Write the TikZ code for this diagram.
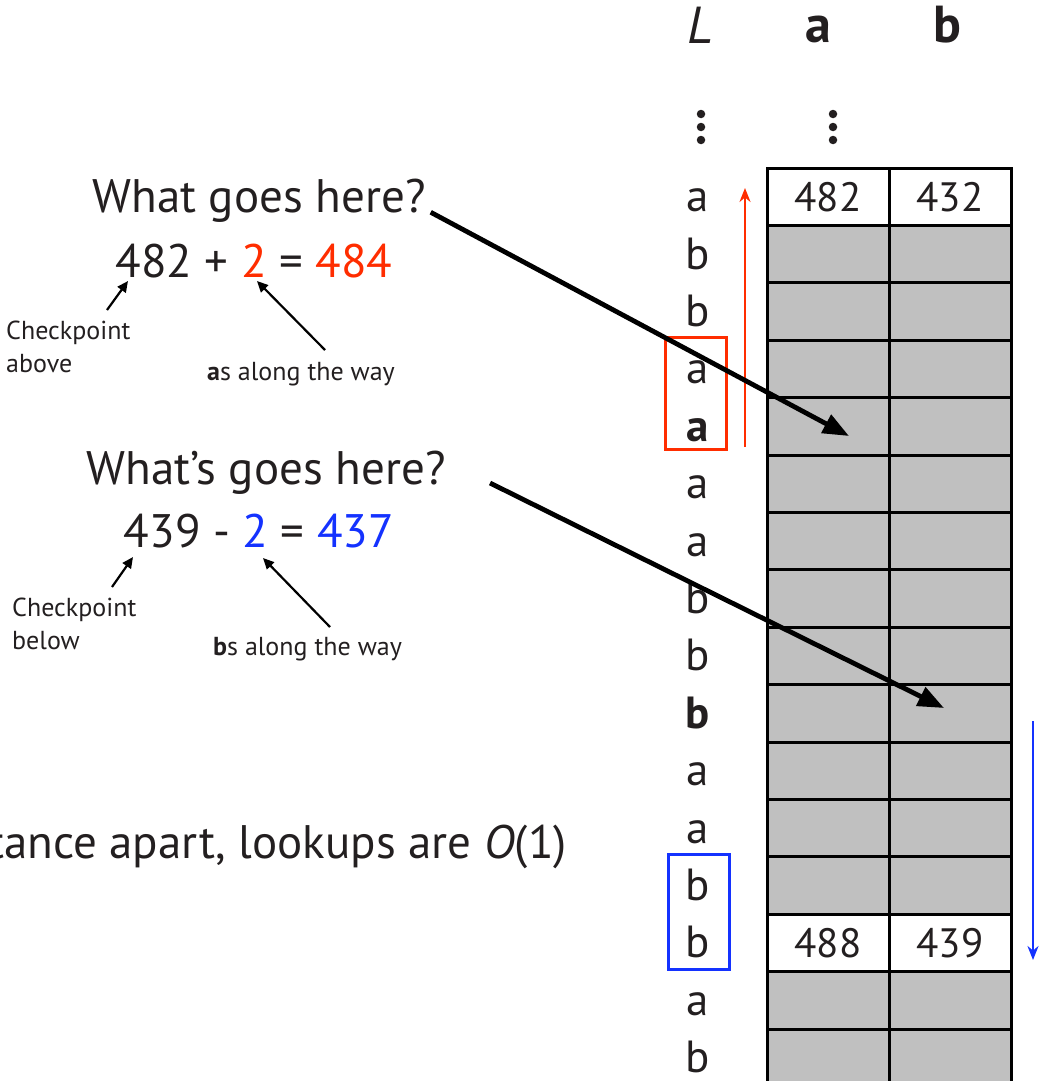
\documentclass[tikz,border=0pt]{standalone}
\usepackage{fontspec}
\setmainfont{PT Sans}
\usetikzlibrary{arrows.meta}
\definecolor{myred}{RGB}{255,45,0}
\definecolor{myblue}{RGB}{20,50,255}
\definecolor{cellgray}{RGB}{192,192,192}
\definecolor{ink}{RGB}{35,31,32}
\begin{document}
\begin{tikzpicture}[x=1pt,y=-1pt,
  lbl/.style={font=\fontsize{45}{50}\selectfont, text=ink, inner sep=0pt, anchor=base},
  hdr/.style={font=\fontsize{52}{58}\selectfont, text=ink, inner sep=0pt, anchor=base},
  cell/.style={draw=black, line width=3pt, minimum width=122pt, minimum height=57.4pt, inner sep=0pt, font=\fontsize{41}{46}\selectfont, text=ink},
  big/.style={font=\fontsize{47}{56}\selectfont, text=ink, inner sep=0pt, anchor=base},
  small/.style={font=\fontsize{26}{33}\selectfont, text=ink, inner sep=0pt, align=left},
  bigarrow/.style={line width=4.8pt, -{Triangle[length=26pt,width=20pt]}},
  smallarrow/.style={line width=2.2pt, -{Triangle[length=11pt,width=10pt]}},
  vdot/.style={circle, fill=ink, inner sep=0pt, minimum size=8.5pt},
  hlbox/.style={line width=3pt, minimum width=61pt, minimum height=112pt, inner sep=0pt}
]
\useasboundingbox (0,0) rectangle (1040,1081);
\clip (0,0) rectangle (1040,1081);

% headers
\node[hdr] (hL) at (700,44) {\itshape L};
\node[hdr] (ha) at (818,43) {\bfseries a};
\node[hdr] (hb) at (947,43) {\bfseries b};

% vertical dots
\foreach \k/\yy in {1/114,2/127,3/140}{
  \node[vdot] (dl\k) at (701,\yy) {};
  \node[vdot] (da\k) at (833,\yy) {};
}

% table rows
\foreach \i/\va/\vb/\f in {0/482/432/white,1///cellgray,2///cellgray,3///cellgray,4///cellgray,5///cellgray,6///cellgray,7///cellgray,8///cellgray,9///cellgray,10///cellgray,11///cellgray,12///cellgray,13/488/439/white,14///cellgray,15///cellgray}{
  \node[cell, fill=\f] (ca\i) at (828,196.7+57.4*\i) {\va};
  \node[cell, fill=\f] (cb\i) at (950,196.7+57.4*\i) {\vb};
}

% L column labels
\foreach \i/\t in {0/a,1/b,2/b,3/a,4/{\bfseries a},5/a,6/a,7/b,8/b,9/{\bfseries b},10/a,11/a,12/b,13/b,14/a,15/b}{
  \node[lbl] (l\i) at (698,211.7+57.4*\i) {\t};
}

% highlight boxes
\node[hlbox, draw=myred] (rbox) at (695.5,393) {};
\node[hlbox, draw=myblue, minimum height=115pt] (bbox) at (698.5,911.5) {};

% red and blue direction arrows
\coordinate (r0) at (745,447);
\coordinate (r1) at (745,188);
\draw[myred, line width=2.2pt, -{Stealth[length=14pt,width=11pt]}] (r0) -- (r1);
\coordinate (b0) at (1033,721);
\coordinate (b1) at (1033,960);
\draw[myblue, line width=2.2pt, -{Stealth[length=14pt,width=11pt]}] (b0) -- (b1);

% left text, upper
\node[big] (q1) at (259,212) {What goes here?};
\node[big] (e1) at (254,277) {482 + {\color{myred}2} = {\color{myred}484}};
\node[small, anchor=north west] (c1) at (6,321) {Checkpoint\\above};
\node[small, anchor=base west] (w1) at (207,380) {{\bfseries a}s along the way};

% left text, lower
\node[big] (q2) at (266,484) {What’s goes here?};
\node[big] (e2) at (259,547) {439 - {\color{myblue}2} = {\color{myblue}437}};
\node[small, anchor=north west] (c2) at (12,598) {Checkpoint\\below};
\node[small, anchor=base west] (w2) at (213,655) {{\bfseries b}s along the way};

% bottom text (cut off at the left)
\node[big, anchor=base east] (bt) at (567,858) {tance apart, lookups are \textit{O}(1)};

% small arrows
\coordinate (s1a) at (107,310); \coordinate (s1b) at (128,281);
\draw[smallarrow] (s1a) -- (s1b);
\coordinate (s2a) at (325,350); \coordinate (s2b) at (257,281);
\draw[smallarrow] (s2a) -- (s2b);
\coordinate (s3a) at (112,587); \coordinate (s3b) at (133,557);
\draw[smallarrow] (s3a) -- (s3b);
\coordinate (s4a) at (330,627); \coordinate (s4b) at (263,558);
\draw[smallarrow] (s4a) -- (s4b);

% big arrows
\coordinate (t1) at (849,436);
\draw[bigarrow] ([xshift=5pt,yshift=-12pt]q1.east) -- (t1);
\coordinate (u2) at (490,483);
\coordinate (t2) at (944,708);
\draw[bigarrow] (u2) -- (t2);
\end{tikzpicture}
\end{document}
